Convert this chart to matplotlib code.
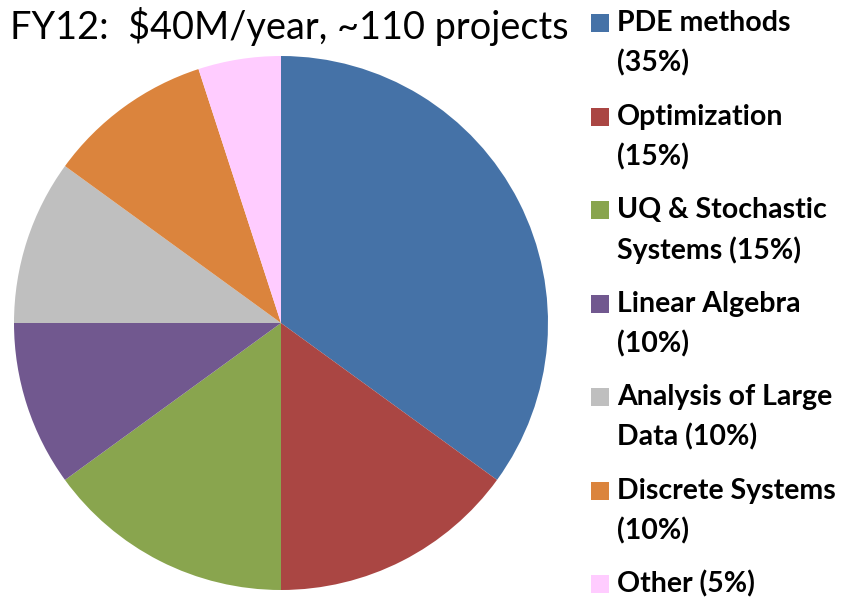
import matplotlib
matplotlib.use("Agg")
import matplotlib.pyplot as plt
from matplotlib.patches import Rectangle

# data
categories = ["PDE methods", "Optimization", "UQ & Stochastic Systems",
              "Linear Algebra", "Analysis of Large Data",
              "Discrete Systems", "Other"]
shares = [35, 15, 15, 10, 10, 10, 5]
legend_text = ["PDE methods\n(35%)", "Optimization\n(15%)",
               "UQ & Stochastic\nSystems (15%)", "Linear Algebra\n(10%)",
               "Analysis of Large\nData (10%)", "Discrete Systems\n(10%)",
               "Other (5%)"]
colors = ["#4572A7", "#AA4643", "#89A54E", "#71588F",
          "#BFBFBF", "#DB843D", "#FFCCFF"]

W, H = 844, 598
fig = plt.figure(figsize=(W / 100, H / 100), dpi=100)
fig.patch.set_facecolor("white")

# pie axes: center (281, 323) px, radius 267 px
cx, cy, r = 281, 323, 267
ax = fig.add_axes([(cx - r) / W, 1 - (cy + r) / H, 2 * r / W, 2 * r / H])
ax.pie(shares, colors=colors, startangle=90, counterclock=False,
       radius=1, wedgeprops=dict(linewidth=0))
ax.set_xlim(-1, 1)
ax.set_ylim(-1, 1)
ax.set_aspect("equal")
ax.axis("off")

fig.text(10 / W, 1 - 26 / H, "FY12:  $40M/year, ~110 projects",
         fontsize=27.3, family="Lato", va="center", ha="left", color="black")

# legend drawn by hand
y0, step, line_gap = 23, 93.5, 40
for i, txt in enumerate(legend_text):
    y = y0 + i * step
    fig.patches.append(Rectangle((591 / W, 1 - (y + 9) / H), 18 / W, 18 / H,
                                 transform=fig.transFigure,
                                 facecolor=colors[i], edgecolor="none"))
    lines = txt.split("\n")
    for j, ln in enumerate(lines):
        fig.text(617 / W, 1 - (y + j * line_gap) / H, ln, fontsize=20.5,
                 family="Lato", fontweight="bold", va="center", ha="left",
                 color="black")

fig.savefig("out.png", dpi=100, facecolor="white")
